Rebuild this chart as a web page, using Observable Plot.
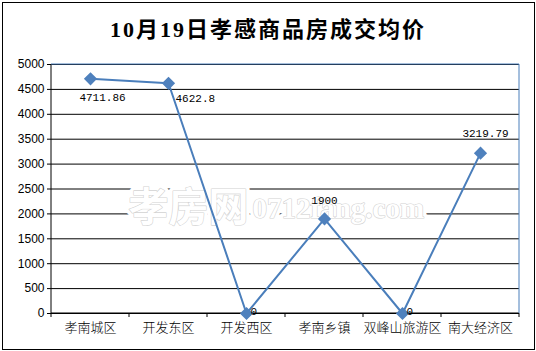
<!DOCTYPE html>
<html><head><meta charset="utf-8">
<script src="https://cdn.jsdelivr.net/npm/d3@7"></script>
<script src="https://cdn.jsdelivr.net/npm/@observablehq/plot@0.6"></script>
<style>
body{margin:0;background:#fff}
#wrap{position:relative;width:536px;height:351px;overflow:hidden}
#border{position:absolute;left:2px;top:2px;width:531px;height:346px;border:1px solid #000;pointer-events:none}
#title{position:absolute;left:0;width:536px;top:11px;text-align:center;font:bold 22px "Liberation Serif","Noto Sans CJK SC";letter-spacing:2px;color:#000}
#chart{position:absolute;left:0;top:0}
</style></head>
<body><div id="wrap"><div id="chart"></div><div id="title"></div><div id="border"></div></div>
<script>
const title = "10月19日孝感商品房成交均价";
const categories = ["孝南城区","开发东区","开发西区","孝南乡镇","双峰山旅游区","南大经济区"];
const prices = [4711.86, 4622.8, 0, 1900, 0, 3219.79];
const priceLabels = ["4711.86","4622.8","0","1900","0","3219.79"];
const yTicks = [0,500,1000,1500,2000,2500,3000,3500,4000,4500,5000];
const watermarkCN = "孝房网";
const watermarkEN = "0712fang.com";

document.getElementById("title").textContent = title;
const data = categories.map((c,i)=>({category:c, price:prices[i], label:priceLabels[i], i}));
const blue = "#4A7EBB";

function frameLines(index, scales, values, dims) {
  const x = scales.x, y = scales.y, bw = x.bandwidth();
  const g = d3.create("svg:g");
  const y0 = y(0), yTop = y(yTicks[yTicks.length-1]);
  const xL = x(categories[0]), xR = x(categories[categories.length-1]) + bw;
  const bounds = categories.map(c => x(c)).concat([xR]);
  for (const b of bounds) g.append("line").attr("x1", b).attr("x2", b).attr("y1", y0).attr("y2", y0 + 4).attr("stroke", "#000");
  g.append("line").attr("x1", xL).attr("x2", xR).attr("y1", y0).attr("y2", y0).attr("stroke", "#000");
  g.append("line").attr("x1", xL).attr("x2", xL).attr("y1", yTop).attr("y2", y0).attr("stroke", "#000");
  g.append("line").attr("x1", xL).attr("x2", xR).attr("y1", yTop).attr("y2", yTop).attr("stroke", blue);
  g.append("line").attr("x1", xR).attr("x2", xR).attr("y1", yTop).attr("y2", y0).attr("stroke", blue);
  return g.node();
}

const labelFont = {fontFamily: "Liberation Mono", fontSize: 11, fill: "#000"};
const wmCN = {text: d => d, frameAnchor: "top-left", dx: 77, dy: 128, textAnchor: "start", fontSize: 40, fontWeight: "bold", fontFamily: "Noto Sans CJK SC"};
const wmEN = {text: d => d, frameAnchor: "top-left", dx: 201, dy: 133, textAnchor: "start", fontSize: 29, fontWeight: "bold", fontFamily: "Liberation Serif"};
const chart = Plot.plot({
  width: 536, height: 351,
  marginLeft: 51, marginRight: 17, marginTop: 64, marginBottom: 38,
  x: {type: "band", domain: categories, padding: 0, label: null},
  y: {domain: [0, 5000], label: null},
  style: {background: "transparent"},
  marks: [
    Plot.gridY(yTicks, {stroke: "#000", strokeOpacity: 1}),
    Plot.text([watermarkCN], {...wmCN, fill: "#fff", stroke: "#fff", strokeWidth: 8, paintOrder: "stroke"}),
    Plot.text([watermarkEN], {...wmEN, fill: "#fff", stroke: "#fff", strokeWidth: 8, paintOrder: "stroke"}),
    Plot.text([watermarkCN], {...wmCN, fill: "#fff", stroke: "#d2d2d2", strokeWidth: 1.2}),
    Plot.text([watermarkEN], {...wmEN, fill: "#fff", stroke: "#d2d2d2", strokeWidth: 1.2}),
    frameLines,
    Plot.axisY({ticks: yTicks, tickSize: 4, tickPadding: 3, fontSize: 12, fontFamily: "Liberation Sans", tickFormat: d => String(d), label: null}),
    Plot.axisX({tickSize: 0, tickPadding: 9, fontSize: 13, fontWeight: 300, fontFamily: "Noto Sans CJK SC", label: null}),
    Plot.line(data, {x: "category", y: "price", stroke: blue, strokeWidth: 2}),
    Plot.dot(data, {x: "category", y: "price", symbol: "diamond2", r: 5, fill: "#4F81BD", stroke: "#4F81BD"}),
    Plot.text(data.filter(d => d.i === 0), {x: "category", y: "price", text: "label", dx: 12, dy: 19, ...labelFont}),
    Plot.text(data.filter(d => d.i === 1), {x: "category", y: "price", text: "label", dx: 7, dy: 15, textAnchor: "start", ...labelFont}),
    Plot.text(data.filter(d => d.price === 0), {x: "category", y: "price", text: "label", dx: 4, dy: -2, textAnchor: "start", ...labelFont}),
    Plot.text(data.filter(d => d.i === 3), {x: "category", y: "price", text: "label", dx: 0, dy: -18, ...labelFont}),
    Plot.text(data.filter(d => d.i === 5), {x: "category", y: "price", text: "label", dx: 5, dy: -20, ...labelFont})
  ]
});
document.getElementById("chart").appendChild(chart);
</script>
</body></html>
